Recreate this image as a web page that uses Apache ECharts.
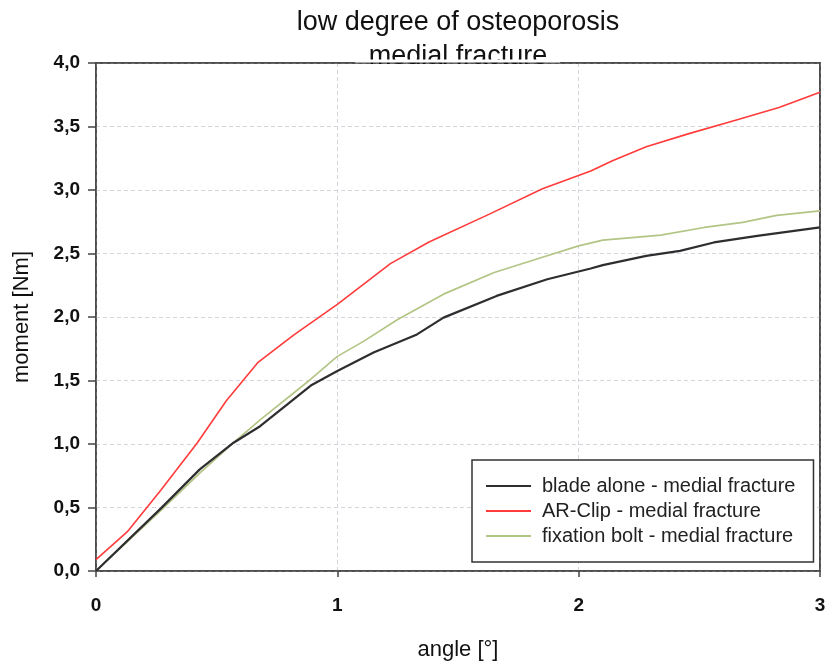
<!DOCTYPE html>
<html>
<head>
<meta charset="utf-8">
<script src="https://cdn.jsdelivr.net/npm/echarts@6/dist/echarts.min.js"></script>
<style>
  html, body { margin: 0; padding: 0; background: #fff; }
  #chart { width: 829px; height: 666px; }
</style>
</head>
<body>
<div id="chart"></div>
<script>
// ---- data ----
const titleLines = ['low degree of osteoporosis', 'medial fracture'];
const xAxisName = 'angle [°]';
const yAxisName = 'moment [Nm]';
const seriesNames = ['blade alone - medial fracture', 'AR-Clip - medial fracture', 'fixation bolt - medial fracture'];

const bladeAngle  = [0, 0.27, 0.43, 0.57, 0.68, 0.89, 1.0, 1.15, 1.33, 1.44, 1.66, 1.87, 2.05, 2.1, 2.28, 2.42, 2.56, 2.74, 3.0];
const bladeMoment = [0, 0.495, 0.80, 1.01, 1.14, 1.46, 1.575, 1.72, 1.863, 1.995, 2.166, 2.297, 2.382, 2.408, 2.481, 2.521, 2.587, 2.639, 2.705];

const clipAngle  = [0, 0.13, 0.27, 0.42, 0.54, 0.67, 0.82, 1.0, 1.22, 1.38, 1.63, 1.85, 2.05, 2.14, 2.28, 2.45, 2.65, 2.83, 3.0];
const clipMoment = [0.09, 0.31, 0.64, 1.01, 1.34, 1.64, 1.86, 2.1, 2.42, 2.59, 2.81, 3.01, 3.15, 3.23, 3.34, 3.44, 3.55, 3.65, 3.77];

const boltAngle  = [0, 0.27, 0.43, 0.57, 0.68, 0.89, 1.0, 1.11, 1.25, 1.44, 1.65, 1.85, 2.0, 2.1, 2.34, 2.52, 2.68, 2.82, 3.0];
const boltMoment = [0, 0.48, 0.77, 1.01, 1.19, 1.51, 1.69, 1.81, 1.98, 2.18, 2.35, 2.47, 2.56, 2.605, 2.645, 2.705, 2.745, 2.80, 2.835];

const xTicks = [0, 1, 2, 3];
const yTicks = [0, 0.5, 1, 1.5, 2, 2.5, 3, 3.5, 4];

function pairs(xs, ys) { return xs.map((x, i) => [x, ys[i]]); }

const FONT = '"Liberation Sans", Arial, Helvetica, sans-serif';
const FRAME = '#444';
const GRIDLINE = '#d8d4de';
const chart = echarts.init(document.getElementById('chart'), null, { renderer: 'canvas' });

function frameAxis(position, min, max, interval) {
  return {
    type: 'value', position: position, min: min, max: max, interval: interval,
    axisLine: { show: true, onZero: false, lineStyle: { color: FRAME, width: 1.5 } },
    axisTick: { show: false }, axisLabel: { show: false }, splitLine: { show: false }
  };
}

chart.setOption({
  backgroundColor: '#ffffff',
  animation: false,
  textStyle: { fontFamily: FONT },
  graphic: [
    { type: 'text', x: 458, y: 23, z: 10,
      style: { text: titleLines[0], fontFamily: FONT, fontSize: 27, fill: '#111', align: 'center', verticalAlign: 'middle' } },
    { type: 'text', x: 458, y: 57, z: 10,
      style: { text: titleLines[1], fontFamily: FONT, fontSize: 27, fill: '#111', align: 'center', verticalAlign: 'middle' } },
    { type: 'rect', z: 11, shape: { x: 355, y: 59.5, width: 205, height: 3 }, style: { fill: '#ffffff' } }
  ],
  grid: {
    left: 96, right: 9, top: 63, bottom: 95,
    show: true, borderColor: FRAME, borderWidth: 1.5, backgroundColor: '#fff'
  },
  legend: {
    orient: 'vertical',
    left: 472, top: 460,
    padding: [16, 18, 16, 14],
    itemGap: 5,
    itemWidth: 45, itemHeight: 2,
    icon: 'rect',
    backgroundColor: '#fff',
    borderColor: '#333', borderWidth: 1.5, borderRadius: 0,
    textStyle: { fontFamily: FONT, fontSize: 20, color: '#222', lineHeight: 20, padding: [0, 0, 0, 6] },
    data: seriesNames
  },
  xAxis: [{
    type: 'value', min: 0, max: 3, interval: 1,
    name: xAxisName, nameLocation: 'middle', nameGap: 68,
    nameTextStyle: { fontFamily: FONT, fontSize: 22, color: '#111' },
    axisLine: { show: true, lineStyle: { color: FRAME, width: 1.5 } },
    axisTick: { show: true, length: 6, lineStyle: { color: FRAME, width: 1.5 } },
    axisLabel: { margin: 25, fontFamily: FONT, fontSize: 19, fontWeight: 'bold', color: '#111',
      customValues: xTicks, formatter: v => String(v) },
    splitLine: { show: true, lineStyle: { color: GRIDLINE, width: 1, type: [4, 3] } }
  }, frameAxis('top', 0, 3, 1)],
  yAxis: [{
    type: 'value', min: 0, max: 4, interval: 0.5,
    name: yAxisName, nameLocation: 'middle', nameGap: 63, nameRotate: 90,
    nameTextStyle: { fontFamily: FONT, fontSize: 22, color: '#111' },
    axisLine: { show: true, lineStyle: { color: FRAME, width: 1.5 } },
    axisTick: { show: true, length: 8, lineStyle: { color: FRAME, width: 1.5 } },
    axisLabel: { margin: 16, fontFamily: FONT, fontSize: 19, fontWeight: 'bold', color: '#111',
      customValues: yTicks, formatter: v => v.toFixed(1).replace('.', ',') },
    splitLine: { show: true, lineStyle: { color: GRIDLINE, width: 1, type: [4, 3] } }
  }, frameAxis('right', 0, 4, 0.5)],
  series: [
    { name: seriesNames[0], type: 'line', data: pairs(bladeAngle, bladeMoment),
      symbol: 'none', z: 4,
      lineStyle: { color: '#2e2e30', width: 2.2 }, itemStyle: { color: '#2e2e30' } },
    { name: seriesNames[1], type: 'line', data: pairs(clipAngle, clipMoment),
      symbol: 'none', z: 3,
      lineStyle: { color: '#ff3b3b', width: 1.6 }, itemStyle: { color: '#ff3b3b' } },
    { name: seriesNames[2], type: 'line', data: pairs(boltAngle, boltMoment),
      symbol: 'none', z: 3,
      lineStyle: { color: '#b3c585', width: 1.7 }, itemStyle: { color: '#b3c585' } }
  ]
});
</script>
</body>
</html>
